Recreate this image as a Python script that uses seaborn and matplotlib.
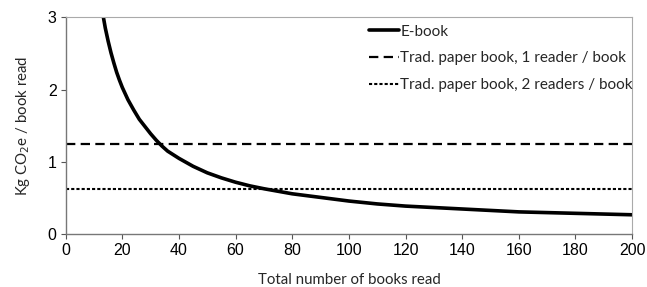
import matplotlib
matplotlib.use("Agg")
import matplotlib.pyplot as plt
import seaborn as sns

sns.set_theme(style="white")
plt.rcParams['font.family'] = ['Liberation Sans', 'DejaVu Sans']

# values
books_read = [13, 14, 15, 16, 17, 18, 19, 20, 22, 24, 26, 28, 30, 32, 34, 36, 38, 40,
              45, 50, 55, 60, 65, 70, 80, 90, 100, 110, 120, 140, 160, 180, 200]
ebook_co2 = [3.07, 2.85, 2.67, 2.51, 2.37, 2.24, 2.13, 2.03, 1.86, 1.72, 1.59, 1.49,
             1.39, 1.30, 1.22, 1.15, 1.10, 1.05, 0.94, 0.85, 0.78, 0.72, 0.67, 0.63,
             0.56, 0.51, 0.46, 0.42, 0.39, 0.35, 0.31, 0.29, 0.27]
paper_range = [0, 200]
paper_1_reader = 1.25
paper_2_readers = 0.625

x_ticks = list(range(0, 201, 20))
y_ticks = [0, 1, 2, 3]

label_font = ["Lato", "DejaVu Sans"]

fig = plt.figure(figsize=(6.47, 2.87), dpi=100)
ax = fig.add_axes([0.1015, 0.1836, 0.8755, 0.7561])

sns.lineplot(x=books_read, y=ebook_co2, ax=ax, color="black", lw=2.6,
             label="E-book")
sns.lineplot(x=paper_range, y=[paper_1_reader] * 2, ax=ax, color="black", lw=1.6,
             dashes=(4.2, 2.4), label="Trad. paper book, 1 reader / book")
sns.lineplot(x=paper_range, y=[paper_2_readers] * 2, ax=ax, color="black", lw=1.5,
             dashes=(1.5, 1.0), label="Trad. paper book, 2 readers / book")

ax.set_xlim(0, 200)
ax.set_ylim(0, 3)
ax.set_xticks(x_ticks)
ax.set_yticks(y_ticks)
ax.tick_params(axis="both", labelsize=11.5, colors="#555555", length=3.5, width=0.8,
               direction="out", bottom=True, left=True, pad=3)
for t in ax.get_xticklabels() + ax.get_yticklabels():
    t.set_color("black")

for side in ["left", "bottom"]:
    ax.spines[side].set_color("#777777")
    ax.spines[side].set_linewidth(1.0)
for side in ["top", "right"]:
    ax.spines[side].set_color("#aaaaaa")
    ax.spines[side].set_linewidth(0.8)

ax.set_xlabel("Total number of books read", fontsize=10.8, family=label_font,
              labelpad=10.5)
ax.set_ylabel("Kg CO$_2$e / book read", fontsize=10.8, family=label_font,
              labelpad=11)

leg = ax.legend(loc="upper right", bbox_to_anchor=(1.012, 0.995), frameon=False,
                handlelength=2.0, handletextpad=0.05, labelspacing=0.85,
                borderaxespad=0.0, prop={"family": label_font, "size": 11})

fig.savefig("out.png", dpi=100)
